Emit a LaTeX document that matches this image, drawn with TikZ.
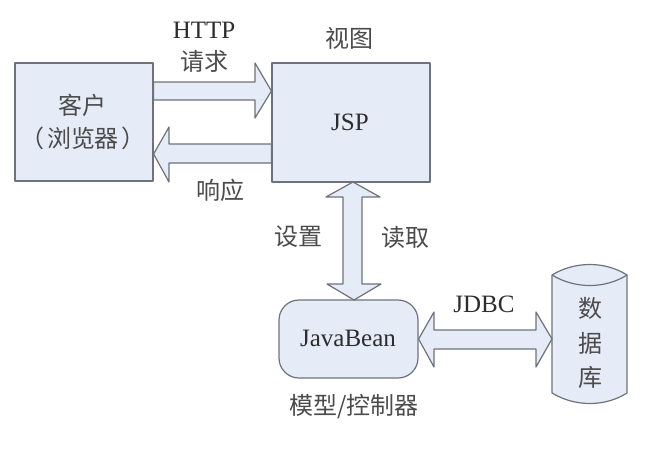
\documentclass[tikz,border=0pt]{standalone}
\usepackage{fontspec}
\setmainfont{Liberation Serif}
\newfontfamily\cjk{Noto Sans CJK SC}[Scale=1]
\definecolor{fillc}{RGB}{230,236,247}
\definecolor{linec}{RGB}{110,114,122}
\definecolor{txt}{RGB}{45,45,45}
\definecolor{txtz}{RGB}{75,75,75}
\tikzset{
 shape box/.style={draw=linec,fill=fillc,line width=1.2pt,line join=round},
 lab/.style={text=txt,font=\fontsize{25}{28}\selectfont,inner sep=0pt,align=center},
 zh/.style={text=txtz,font=\cjk\fontsize{24}{28}\selectfont,inner sep=0pt,align=center}
}
\begin{document}
\begin{tikzpicture}[x=1pt,y=-1pt]
\useasboundingbox (0,0) rectangle (649,472);
\fill[white] (0,0) rectangle (649,472);
\node[shape box,minimum width=138pt,minimum height=118pt,inner sep=0pt] (client) at (84,122) {};
\node[shape box,minimum width=158pt,minimum height=119pt,inner sep=0pt] (jsp) at (351,122.5) {};
\node[shape box,rounded corners=20pt,minimum width=139pt,minimum height=78pt,inner sep=0pt] (bean) at (348.5,339) {};
\draw[shape box] (552,275) .. controls (575,261) and (605,261) .. (627,275)
  -- (627,393) .. controls (605,407) and (575,407) .. (552,393) -- cycle;
\coordinate (dbw) at (552,339);
\draw[shape box] (552,275) .. controls (575,289) and (605,289) .. (627,275);
\draw[shape box] (client.east |- 0,82) -- (255,82) -- (255,63) -- (jsp.west |- 0,91) -- (255,118) -- (255,100) -- (client.east |- 0,100) -- cycle;
\draw[shape box] (jsp.west |- 0,144) -- (169,144) -- (169,127) -- (client.east |- 0,154) -- (169,182) -- (169,163) -- (jsp.west |- 0,163) -- cycle;
\draw[shape box] (353,182) -- (380,197) -- (362,197) -- (362,284) -- (381,284) -- (354,300) -- (327,284) -- (343,284) -- (343,197) -- (326,197) -- cycle;
\draw[shape box] (bean.east |- 0,339) -- (434,312) -- (434,330) -- (536,330) -- (536,312) -- (dbw) -- (536,367) -- (536,349) -- (434,349) -- (434,367) -- cycle;
\node[zh] (c1) at (82,105) {客户};
\node[zh] (c2) at (83,138) {（\kern3pt 浏览器\kern3pt ）};
\node[lab] (jsptxt) at (350,122) {JSP};
\node[lab] (beantxt) at (348,338) {JavaBean};
\node[lab] (http) at (204,30) {HTTP};
\node[zh] (req) at (204,61) {请求};
\node[zh] (view) at (349,38) {视图};
\node[zh] (resp) at (220,190) {响应};
\node[zh] (set) at (298,237) {设置};
\node[zh] (read) at (405,237) {读取};
\node[lab] (jdbc) at (484,304) {JDBC};
\node[zh] (mc) at (354,407) {模型/控制器};
\node[zh] (d1) at (590,308) {数};
\node[zh] (d2) at (590,343) {据};
\node[zh] (d3) at (590,377) {库};
\end{tikzpicture}
\end{document}
